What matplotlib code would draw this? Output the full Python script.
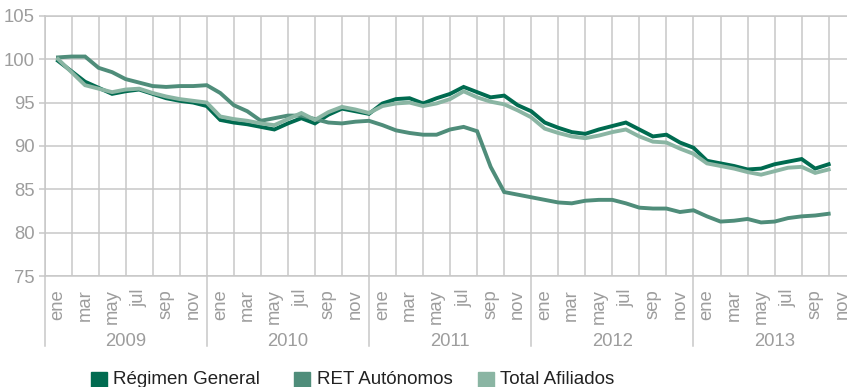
import numpy as np
import matplotlib
matplotlib.use("Agg")
import matplotlib.pyplot as plt
from matplotlib.patches import Rectangle
import matplotlib.transforms as mtransforms

plt.rcParams['font.family'] = ['Liberation Sans', 'DejaVu Sans']

# Monthly index (ene 2009 = 100), ene 2009 .. oct 2013
regimen_general = [
    99.8, 98.6, 97.4, 96.7, 96.0, 96.3, 96.5, 96.0, 95.5, 95.2, 95.0, 94.6,
    93.0, 92.7, 92.5, 92.2, 91.9, 92.6, 93.2, 92.6, 93.6, 94.3, 94.0, 93.7,
    94.9, 95.4, 95.5, 94.9, 95.5, 96.0, 96.8, 96.2, 95.6, 95.8, 94.7, 94.0,
    92.7, 92.1, 91.6, 91.4, 91.9, 92.3, 92.7, 91.9, 91.1, 91.3, 90.4, 89.8,
    88.3, 88.0, 87.7, 87.3, 87.4, 87.9, 88.2, 88.5, 87.4, 87.9,
]
ret_autonomos = [
    100.2, 100.3, 100.3, 99.0, 98.5, 97.7, 97.3, 96.9, 96.8, 96.9, 96.9, 97.0,
    96.1, 94.7, 94.0, 92.9, 93.2, 93.5, 93.5, 93.1, 92.7, 92.6, 92.8, 92.9,
    92.4, 91.8, 91.5, 91.3, 91.3, 91.9, 92.2, 91.7, 87.6, 84.7, 84.4, 84.1,
    83.8, 83.5, 83.4, 83.7, 83.8, 83.8, 83.4, 82.9, 82.8, 82.8, 82.4, 82.6,
    81.9, 81.3, 81.4, 81.6, 81.2, 81.3, 81.7, 81.9, 82.0, 82.2,
]
total_afiliados = [
    100.0, 98.5, 97.0, 96.6, 96.2, 96.5, 96.6, 96.1, 95.7, 95.4, 95.2, 95.0,
    93.4, 93.1, 92.9, 92.6, 92.4, 93.1, 93.8, 93.0, 93.9, 94.5, 94.2, 93.8,
    94.6, 94.9, 95.0, 94.6, 94.9, 95.4, 96.3, 95.6, 95.1, 94.8, 94.1, 93.3,
    92.0, 91.5, 91.1, 90.9, 91.2, 91.6, 91.9, 91.1, 90.5, 90.4, 89.7, 89.1,
    88.0, 87.7, 87.4, 87.0, 86.7, 87.1, 87.5, 87.6, 86.9, 87.3,
]

years = ["2009", "2010", "2011", "2012", "2013"]
month_labels = ["ene", "mar", "may", "jul", "sep", "nov"]
series_names = ["Régimen General", "RET Autónomos", "Total Afiliados"]
colors = ["#006b50", "#4f8d7a", "#8ab5a3"]

W, H = 847, 387
fig = plt.figure(figsize=(W / 100, H / 100), dpi=100)
ax = fig.add_axes([44.5 / W, 1 - 276.3 / H, 811.2 / W, 260.6 / H])

x = np.arange(len(regimen_general))
grid_c = "#c8c8c8"
text_c = "#9d9d9d"

for vals, c in zip([regimen_general, ret_autonomos, total_afiliados], colors):
    ax.plot(x, vals, color=c, lw=2.8, solid_joinstyle="miter", zorder=3)

n_months = 12 * len(years)
ax.set_xlim(-1, n_months - 1)
ax.set_ylim(75, 105)
ax.set_yticks(np.arange(75, 106, 5))
ax.set_xticks(np.arange(0, n_months, 2))
ax.set_xticklabels(month_labels * len(years), rotation=90, color=text_c,
                   fontsize=13.3, va="top")
ax.set_xticks(np.arange(-1, n_months, 2), minor=True)
ax.tick_params(axis="x", which="both", length=0, pad=9)
ax.tick_params(axis="y", length=4, color=grid_c, width=1.1, labelsize=13.3,
               labelcolor=text_c, pad=3)
ax.grid(axis="y", which="major", color=grid_c, lw=1.1)
ax.grid(axis="x", which="minor", color=grid_c, lw=1.1)
for s in ["top", "right", "bottom", "left"]:
    ax.spines[s].set_color(grid_c)
    ax.spines[s].set_linewidth(1.1)
ax.spines["right"].set_visible(False)
ax.set_axisbelow(True)

# Year separators and year labels under the month labels
trans = mtransforms.blended_transform_factory(ax.transData, ax.transAxes)
sep_len = 70 / 260.6
for i in range(len(years) + 1):
    xs = -1 + 12 * i
    ax.plot([xs, xs], [0, -sep_len], color=grid_c, lw=1.1,
            transform=trans, clip_on=False)
for i, y in enumerate(years):
    ax.text(-1 + 12 * i + 6, -(342 - 276.3) / 260.6, y, transform=trans,
            ha="center", va="center", fontsize=13.3, color=text_c)

# Legend row at the bottom
legend_items = [(90.7, 113), (294, 317), (478, 500)]
for (sx, tx), name, c in zip(legend_items, series_names, colors):
    fig.patches.append(Rectangle((sx / W, 1 - 388 / H), 16 / W, 16 / H,
                                 transform=fig.transFigure, color=c,
                                 figure=fig))
    fig.text(tx / W, 1 - 379.5 / H, name, ha="left", va="center",
             fontsize=13.5, color="#222222")

fig.savefig("out.png", dpi=100)
